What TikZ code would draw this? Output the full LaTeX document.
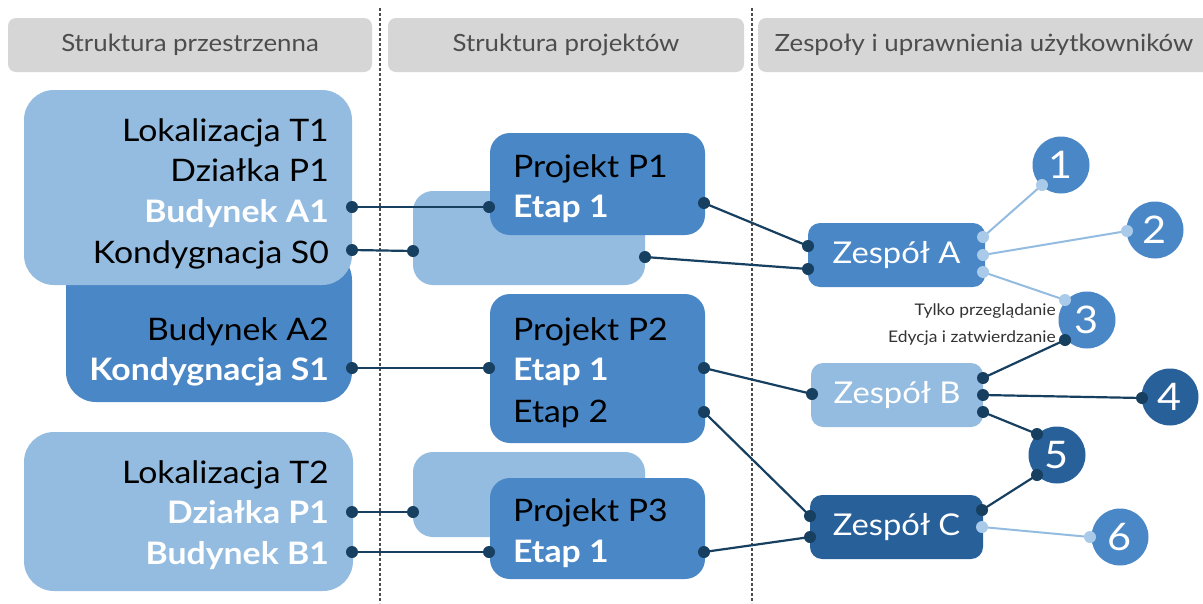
\documentclass[tikz,border=0pt]{standalone}
\usepackage{fontspec}
\setmainfont{Lato}[FakeStretch=1.09]
\usetikzlibrary{fit}
\definecolor{lightb}{HTML}{93BCE0}
\definecolor{midb}{HTML}{4A87C6}
\definecolor{darkb}{HTML}{28609A}
\definecolor{navy}{HTML}{173F5F}
\definecolor{lightdot}{HTML}{A9CBE9}
\definecolor{hdrgray}{HTML}{D6D6D6}
\definecolor{hdrtext}{HTML}{4D4D4D}
\newcommand\mainsz{\fontsize{31}{36}\selectfont}
\begin{document}
\begin{tikzpicture}[x=1pt,y=-1pt,
  hdrbox/.style={fill=hdrgray, rounded corners=8pt, inner sep=0pt},
  hdrtxt/.style={text=hdrtext, font=\fontsize{23.7}{28}\selectfont, inner sep=0pt},
  bigbox/.style={rounded corners=30pt, inner sep=0pt, draw=none},
  projbox/.style={rounded corners=20pt, inner sep=0pt, draw=none},
  teambox/.style={rounded corners=12pt, inner sep=0pt, draw=none},
  teamtxt/.style={text=white, font=\fontsize{30}{34}\selectfont, inner sep=0pt},
  numcirc/.style={circle, minimum size=57pt, inner sep=0pt, text=white, font=\fontsize{38}{40}\selectfont},
  rtxt/.style={anchor=base east, inner sep=0pt, font=\mainsz},
  ltxt/.style={anchor=base west, inner sep=0pt, font=\mainsz},
  btxt/.style={font=\mainsz\bfseries, text=white},
  conn/.style={draw=navy, line width=2.2pt},
  lconn/.style={draw=lightb, line width=2pt},
  smalltxt/.style={anchor=base east, inner sep=0pt, text=black!80, font=\fontsize{16}{18}\selectfont},
  sep/.style={draw=black!70, line width=1.1pt, dash pattern=on 3pt off 2pt}
]
\clip (0,0) rectangle (1203,603);
\fill[white] (0,0) rectangle (1203,603);

% headers
\node[hdrbox, fit={(8,18)(372,72)}] (h1) {};
\node[hdrtxt] (h1t) at (h1.center) {Struktura przestrzenna};
\node[hdrbox, fit={(388,18)(744,72)}] (h2) {};
\node[hdrtxt] (h2t) at (h2.center) {Struktura projektów};
\node[hdrbox, fit={(758,18)(1220,72)}] (h3) {};
\node[hdrtxt] (h3t) at (984,45) {Zespoły i uprawnienia użytkowników};

% separators
\coordinate (s1a) at (380,8); \coordinate (s1b) at (380,603);
\coordinate (s2a) at (752,8); \coordinate (s2b) at (752,603);
\draw[sep] (s1a) -- (s1b);
\draw[sep] (s2a) -- (s2b);

% left column boxes
\node[bigbox, fill=midb, fit={(66,250)(352,402)}] (a2) {};
\node[bigbox, fill=lightb, fit={(24,90)(352,285)}] (t1) {};
\node[bigbox, fill=lightb, fit={(24,432)(353,591)}] (t2) {};

\node[rtxt] (t1a) at (329,141) {Lokalizacja T1};
\node[rtxt] (t1b) at (329,181.5) {Działka P1};
\node[rtxt, btxt] (t1c) at (329,222) {Budynek A1};
\node[rtxt] (t1d) at (329,263) {Kondygnacja S0};
\node[rtxt] (a2a) at (329,340) {Budynek A2};
\node[rtxt, btxt] (a2b) at (329,380) {Kondygnacja S1};
\node[rtxt] (t2a) at (329,483) {Lokalizacja T2};
\node[rtxt, btxt] (t2b) at (329,523) {Działka P1};
\node[rtxt, btxt] (t2c) at (329,564) {Budynek B1};

% middle column boxes
\node[projbox, fill=lightb, fit={(413,191)(645,285)}] (p1b) {};
\node[projbox, fill=midb, fit={(490,133)(705,235)}] (p1) {};
\node[projbox, fill=midb, fit={(490,294)(705,443)}] (p2) {};
\node[projbox, fill=lightb, fit={(413,452)(645,537)}] (p3b) {};
\node[projbox, fill=midb, fit={(490,478)(705,579)}] (p3) {};

\node[ltxt] (p1a) at (513,177) {Projekt P1};
\node[ltxt, btxt] (p1e) at (513,217) {Etap 1};
\node[ltxt] (p2a) at (513,340) {Projekt P2};
\node[ltxt, btxt] (p2e) at (513,380) {Etap 1};
\node[ltxt] (p2f) at (513,422) {Etap 2};
\node[ltxt] (p3a) at (513,521) {Projekt P3};
\node[ltxt, btxt] (p3e) at (513,562) {Etap 1};

% teams
\node[teambox, fill=midb, fit={(808,223)(985,287)}] (za) {};
\node[teamtxt] (zat) at (za.center) {Zespół A};
\node[teambox, fill=lightb, fit={(811,363)(983,427)}] (zb) {};
\node[teamtxt] (zbt) at (zb.center) {Zespół B};
\node[teambox, fill=darkb, fit={(810,495)(983,559)}] (zc) {};
\node[teamtxt] (zct) at (zc.center) {Zespół C};

% numbered circles
\node[numcirc, fill=midb] (c1) at (1061,165) {1};
\node[numcirc, fill=midb] (c2) at (1155,230) {2};
\node[numcirc, fill=midb] (c3) at (1087,320) {3};
\node[numcirc, fill=darkb] (c4) at (1170,397) {4};
\node[numcirc, fill=darkb] (c5) at (1057,455) {5};
\node[numcirc, fill=midb] (c6) at (1120,537) {6};

\node[smalltxt] (lab1) at (1056,315) {Tylko przeglądanie};
\node[smalltxt] (lab2) at (1056,342) {Edycja i zatwierdzanie};

% connection points
\coordinate (la1) at (352,207);
\coordinate (ls0) at (352,250);
\coordinate (ls1) at (352,368);
\coordinate (lp1) at (352,512);
\coordinate (lb1) at (352,552);
\coordinate (m1l) at (489,207);
\coordinate (mbl) at (413,251);
\coordinate (m1r) at (704,203);
\coordinate (mbr) at (645,257);
\coordinate (m2l) at (489,368);
\coordinate (m2r1) at (704,368);
\coordinate (m2r2) at (704,412);
\coordinate (m3bl) at (413,512);
\coordinate (m3l) at (489,552);
\coordinate (m3r) at (704,552);
\coordinate (zal1) at (808,246);
\coordinate (zal2) at (808,269);
\coordinate (zbl) at (812,394);
\coordinate (zcl1) at (810,516);
\coordinate (zcl2) at (810,537);
\coordinate (zar1) at (983,237);
\coordinate (zar2) at (983,255);
\coordinate (zar3) at (983,272);
\coordinate (zbr1) at (983,378);
\coordinate (zbr2) at (983,395);
\coordinate (zbr3) at (983,412);
\coordinate (zcr1) at (982,510);
\coordinate (zcr2) at (982,527);
\coordinate (c1d) at (1042,185);
\coordinate (c2d) at (1127,231);
\coordinate (c3a) at (1065,300);
\coordinate (c3b) at (1065,340);
\coordinate (c4d) at (1142,398);
\coordinate (c5a) at (1037,434);
\coordinate (c5b) at (1037,475);
\coordinate (c6d) at (1090,537);

% connectors
\draw[conn] (la1) -- (m1l);
\draw[conn] (ls0) -- (mbl);
\draw[conn] (ls1) -- (m2l);
\draw[conn] (lp1) -- (m3bl);
\draw[conn] (lb1) -- (m3l);
\draw[conn] (m1r) -- (zal1);
\draw[conn] (mbr) -- (zal2);
\draw[conn] (m2r1) -- (zbl);
\draw[conn] (m2r2) -- (zcl1);
\draw[conn] (m3r) -- (zcl2);
\draw[lconn] (zar1) -- (c1d);
\draw[lconn] (zar2) -- (c2d);
\draw[lconn] (zar3) -- (c3a);
\draw[conn] (zbr1) -- (c3b);
\draw[conn] (zbr2) -- (c4d);
\draw[conn] (zbr3) -- (c5a);
\draw[conn] (zcr1) -- (c5b);
\draw[lconn] (zcr2) -- (c6d);

% dots
\foreach \p in {la1,ls0,ls1,lp1,lb1,m1l,mbl,m1r,mbr,m2l,m2r1,m2r2,m3bl,m3l,m3r,zal1,zal2,zbl,zcl1,zcl2,zbr1,zbr2,zbr3,zcr1,c3b,c4d,c5a,c5b}
  \fill[navy] (\p) circle (6);
\foreach \p in {zar1,zar2,zar3,zcr2,c1d,c2d,c3a,c6d}
  \fill[lightdot] (\p) circle (6);
\end{tikzpicture}
\end{document}
